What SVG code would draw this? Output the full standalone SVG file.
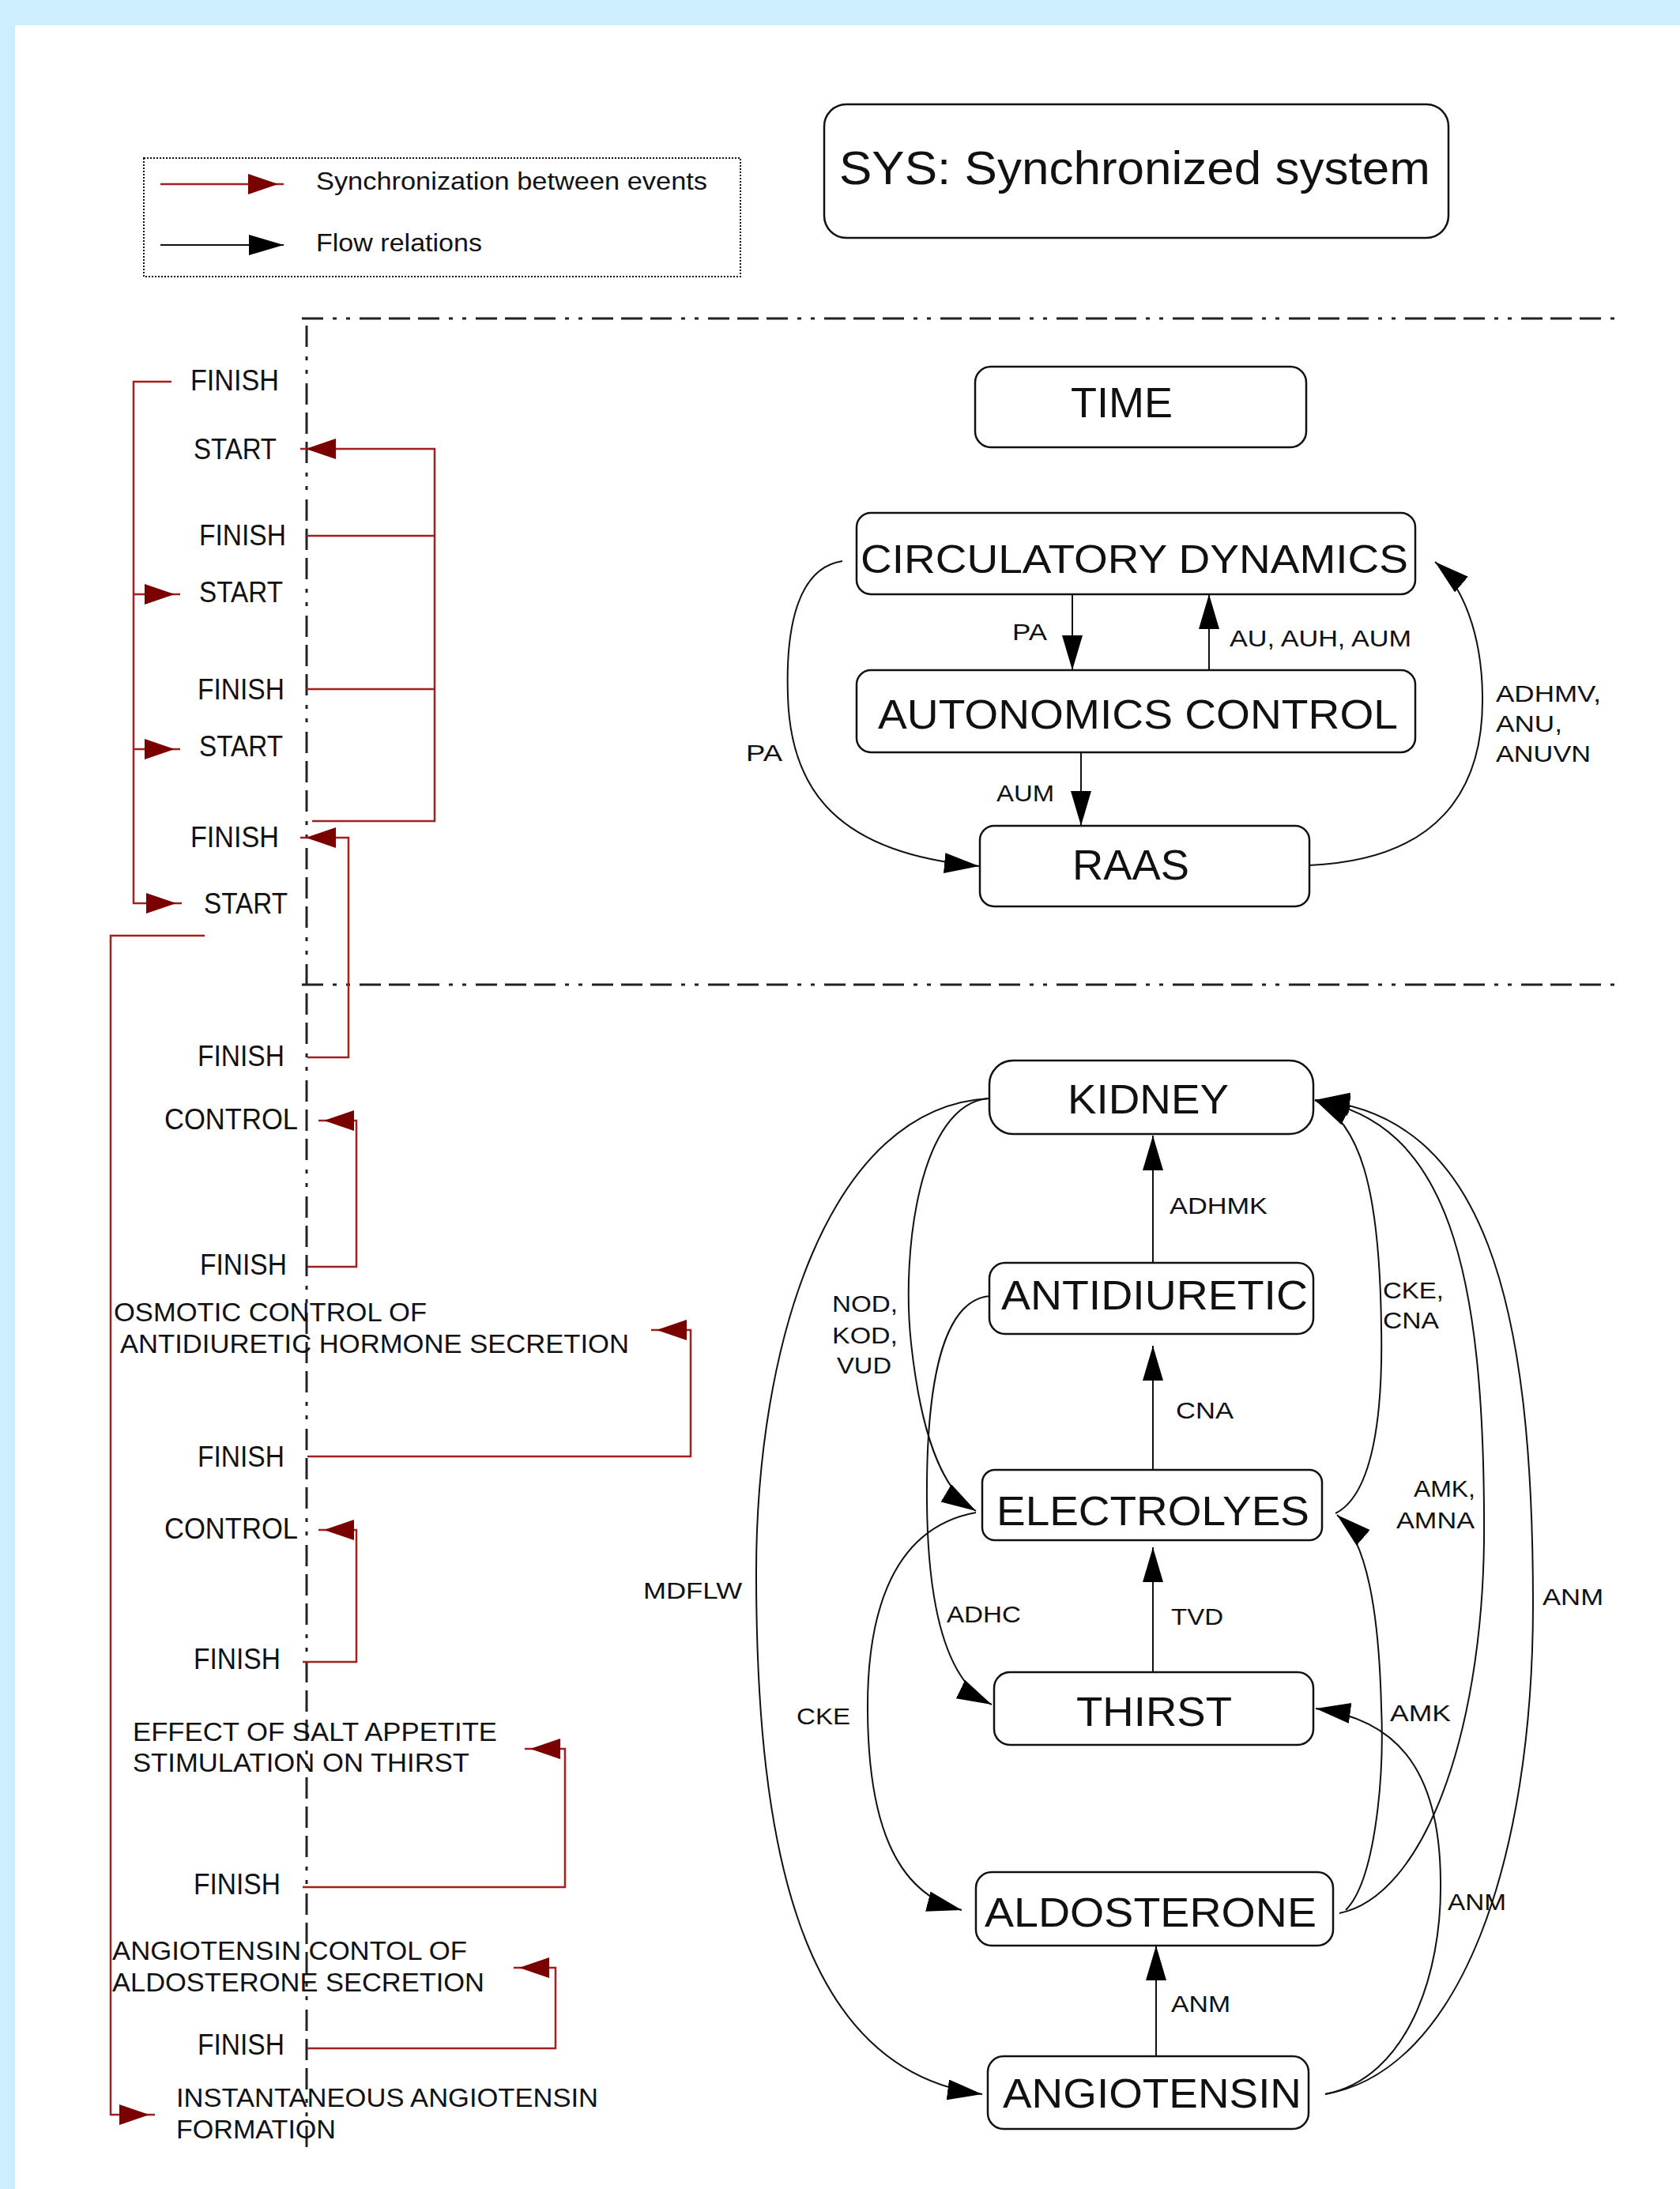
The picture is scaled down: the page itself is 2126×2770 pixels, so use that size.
<svg xmlns="http://www.w3.org/2000/svg" width="2126" height="2770" viewBox="0 0 2126 2770">
<style>
text{font-family:"Liberation Sans",Arial,sans-serif;fill:#111}
.node{fill:#fff;stroke:#111;stroke-width:2.5}
.lbl{font-size:36px}
.dsc{font-size:34px}
.el{font-size:30px}
.nt{font-size:52px}
.flow{fill:none;stroke:#111;stroke-width:2}
.sync{fill:none;stroke:#a31f1f;stroke-width:2.5}
.dd{fill:none;stroke:#222;stroke-width:3;stroke-dasharray:27 10 27 10 27 12 5 12 5 12}
</style>
<defs>
<marker id="ab" markerUnits="userSpaceOnUse" markerWidth="46" markerHeight="28" refX="44" refY="13" orient="auto"><path d="M0,0 L44,13 L0,26 z" fill="#000"/></marker>
<marker id="ar" markerUnits="userSpaceOnUse" markerWidth="48" markerHeight="28" refX="45" refY="13" orient="auto"><path d="M0,0 L38,13 L0,26 z" fill="#7a0000"/></marker>
</defs>
<rect x="0" y="0" width="2126" height="2770" fill="#cceeff"/>
<rect x="19" y="32" width="2107" height="2738" fill="#fff"/>

<g id="legend">
<rect x="182" y="200" width="755" height="150" fill="none" stroke="#111" stroke-width="2" stroke-dasharray="2 2"/>
<path class="sync" d="M203,233 H359" marker-end="url(#ar)"/>
<path class="flow" d="M203,310 H359" marker-end="url(#ab)"/>
<text x="400" y="240" font-size="32" textLength="495" lengthAdjust="spacingAndGlyphs">Synchronization between events</text>
<text x="400" y="318" font-size="32" textLength="210" lengthAdjust="spacingAndGlyphs">Flow relations</text>
</g>

<g id="sys">
<rect class="node" x="1043" y="132" width="790" height="169" rx="28"/>
<text x="1062" y="233" font-size="60" textLength="748" lengthAdjust="spacingAndGlyphs">SYS: Synchronized system</text>
</g>

<g id="separators">
<path class="dd" d="M382,403 H2055" stroke-dashoffset="74"/>
<path class="dd" d="M382,1246 H2055" stroke-dashoffset="74"/>
<path class="dd" d="M388,412 V2717" stroke-dashoffset="74"/>
</g>

<g id="events">
<text class="lbl" x="241" y="494" textLength="112" lengthAdjust="spacingAndGlyphs">FINISH</text>
<text class="lbl" x="245" y="581" textLength="105" lengthAdjust="spacingAndGlyphs">START</text>
<text class="lbl" x="252" y="690" textLength="110" lengthAdjust="spacingAndGlyphs">FINISH</text>
<text class="lbl" x="252" y="762" textLength="106" lengthAdjust="spacingAndGlyphs">START</text>
<text class="lbl" x="250" y="885" textLength="110" lengthAdjust="spacingAndGlyphs">FINISH</text>
<text class="lbl" x="252" y="957" textLength="106" lengthAdjust="spacingAndGlyphs">START</text>
<text class="lbl" x="241" y="1072" textLength="112" lengthAdjust="spacingAndGlyphs">FINISH</text>
<text class="lbl" x="258" y="1156" textLength="106" lengthAdjust="spacingAndGlyphs">START</text>
<text class="lbl" x="250" y="1349" textLength="110" lengthAdjust="spacingAndGlyphs">FINISH</text>
<text class="lbl" x="208" y="1429" textLength="169" lengthAdjust="spacingAndGlyphs">CONTROL</text>
<text class="lbl" x="253" y="1613" textLength="110" lengthAdjust="spacingAndGlyphs">FINISH</text>
<text class="dsc" x="144" y="1672" textLength="396" lengthAdjust="spacingAndGlyphs">OSMOTIC CONTROL OF</text>
<text class="dsc" x="152" y="1712" textLength="644" lengthAdjust="spacingAndGlyphs">ANTIDIURETIC HORMONE SECRETION</text>
<text class="lbl" x="250" y="1856" textLength="110" lengthAdjust="spacingAndGlyphs">FINISH</text>
<text class="lbl" x="208" y="1947" textLength="169" lengthAdjust="spacingAndGlyphs">CONTROL</text>
<text class="lbl" x="245" y="2112" textLength="110" lengthAdjust="spacingAndGlyphs">FINISH</text>
<text class="dsc" x="168" y="2203" textLength="461" lengthAdjust="spacingAndGlyphs">EFFECT OF SALT APPETITE</text>
<text class="dsc" x="168" y="2242" textLength="426" lengthAdjust="spacingAndGlyphs">STIMULATION ON THIRST</text>
<text class="lbl" x="245" y="2397" textLength="110" lengthAdjust="spacingAndGlyphs">FINISH</text>
<text class="dsc" x="142" y="2480" textLength="449" lengthAdjust="spacingAndGlyphs">ANGIOTENSIN CONTOL OF</text>
<text class="dsc" x="142" y="2520" textLength="471" lengthAdjust="spacingAndGlyphs">ALDOSTERONE SECRETION</text>
<text class="lbl" x="250" y="2600" textLength="110" lengthAdjust="spacingAndGlyphs">FINISH</text>
<text class="dsc" x="223" y="2666" textLength="534" lengthAdjust="spacingAndGlyphs">INSTANTANEOUS ANGIOTENSIN</text>
<text class="dsc" x="223" y="2706" textLength="202" lengthAdjust="spacingAndGlyphs">FORMATION</text>
</g>

<g id="time"><rect class="node" x="1234" y="464" width="419" height="102" rx="20"/><text x="1355" y="528" font-size="54" textLength="129" lengthAdjust="spacingAndGlyphs">TIME</text></g>
<g id="circulatory"><rect class="node" x="1084" y="649" width="707" height="103" rx="18"/><text x="1089" y="725" font-size="50" textLength="693" lengthAdjust="spacingAndGlyphs">CIRCULATORY DYNAMICS</text></g>
<g id="autonomics"><rect class="node" x="1084" y="848" width="707" height="104" rx="18"/><text x="1111" y="922" font-size="52" textLength="658" lengthAdjust="spacingAndGlyphs">AUTONOMICS CONTROL</text></g>
<g id="raas"><rect class="node" x="1240" y="1045" width="417" height="102" rx="18"/><text x="1357" y="1113" font-size="54" textLength="148" lengthAdjust="spacingAndGlyphs">RAAS</text></g>

<g id="kidney"><rect class="node" x="1252" y="1342" width="410" height="93" rx="30"/><text class="nt" x="1351" y="1409" textLength="204" lengthAdjust="spacingAndGlyphs">KIDNEY</text></g>
<g id="antidiuretic"><rect class="node" x="1252" y="1598" width="410" height="90" rx="20"/><text class="nt" x="1267" y="1657" textLength="388" lengthAdjust="spacingAndGlyphs">ANTIDIURETIC</text></g>
<g id="electrolyes"><rect class="node" x="1243" y="1860" width="430" height="89" rx="16"/><text class="nt" x="1261" y="1930" textLength="396" lengthAdjust="spacingAndGlyphs">ELECTROLYES</text></g>
<g id="thirst"><rect class="node" x="1258" y="2116" width="404" height="92" rx="20"/><text class="nt" x="1362" y="2184" textLength="197" lengthAdjust="spacingAndGlyphs">THIRST</text></g>
<g id="aldosterone"><rect class="node" x="1235" y="2369" width="452" height="93" rx="20"/><text class="nt" x="1246" y="2438" textLength="420" lengthAdjust="spacingAndGlyphs">ALDOSTERONE</text></g>
<g id="angiotensin"><rect class="node" x="1250" y="2602" width="406" height="92" rx="20"/><text class="nt" x="1269" y="2667" textLength="378" lengthAdjust="spacingAndGlyphs">ANGIOTENSIN</text></g>

<g id="connectors">
<!-- synchronization -->
<path class="sync" d="M217,483 H169 V1143 H230" marker-end="url(#ar)"/>
<path class="sync" d="M169,752 H228" marker-end="url(#ar)"/>
<path class="sync" d="M169,948 H228" marker-end="url(#ar)"/>
<path class="sync" d="M388,678 H550"/>
<path class="sync" d="M388,872 H550"/>
<path class="sync" d="M395,1039 H550 V568 H380" marker-end="url(#ar)"/>
<path class="sync" d="M389,1338 H441 V1060 H380" marker-end="url(#ar)"/>
<path class="sync" d="M389,1603 H451 V1418 H403" marker-end="url(#ar)"/>
<path class="sync" d="M389,1843 H874 V1683 H824" marker-end="url(#ar)"/>
<path class="sync" d="M383,2103 H451 V1936 H403" marker-end="url(#ar)"/>
<path class="sync" d="M383,2388 H715 V2213 H664" marker-end="url(#ar)"/>
<path class="sync" d="M389,2592 H703 V2490 H650" marker-end="url(#ar)"/>
<path class="sync" d="M259,1184 H140 V2676 H196" marker-end="url(#ar)"/>
<!-- flow top -->
<path class="flow" d="M1357,752 V848" marker-end="url(#ab)"/>
<path class="flow" d="M1530,848 V752" marker-end="url(#ab)"/>
<path class="flow" d="M1368,952 V1045" marker-end="url(#ab)"/>
<path class="flow" d="M1066,710 C1000,720 995,820 997,880 C1000,1000 1060,1080 1239,1096" marker-end="url(#ab)"/>
<path class="flow" d="M1657,1095 C1820,1088 1878,1000 1876,880 C1875,800 1850,740 1816,711" marker-end="url(#ab)"/>
<!-- flow bottom -->
<path class="flow" d="M1459,1598 V1437" marker-end="url(#ab)"/>
<path class="flow" d="M1459,1860 V1703" marker-end="url(#ab)"/>
<path class="flow" d="M1459,2116 V1958" marker-end="url(#ab)"/>
<path class="flow" d="M1463,2602 V2462" marker-end="url(#ab)"/>
<path class="flow" d="M1252,1390 C1050,1400 955,1700 957,2000 C958,2330 1010,2620 1243,2650" marker-end="url(#ab)"/>
<path class="flow" d="M1250,1390 C1165,1398 1140,1580 1153,1700 C1165,1810 1190,1885 1235,1912" marker-end="url(#ab)"/>
<path class="flow" d="M1253,1640 C1185,1645 1172,1780 1173,1900 C1174,2040 1200,2130 1255,2157" marker-end="url(#ab)"/>
<path class="flow" d="M1235,1914 C1120,1935 1097,2060 1098,2166 C1099,2300 1130,2395 1217,2417" marker-end="url(#ab)"/>
<path class="flow" d="M1690,1915 C1740,1890 1750,1780 1748,1680 C1746,1500 1720,1420 1664,1392" marker-end="url(#ab)"/>
<path class="flow" d="M1695,2421 C1800,2400 1875,2200 1878,1950 C1880,1600 1830,1420 1664,1392" marker-end="url(#ab)"/>
<path class="flow" d="M1677,2650 C1850,2620 1940,2350 1940,2030 C1940,1650 1880,1410 1664,1392" marker-end="url(#ab)"/>
<path class="flow" d="M1703,2417 C1740,2380 1752,2250 1748,2160 C1745,2040 1730,1950 1692,1917" marker-end="url(#ab)"/>
<path class="flow" d="M1677,2650 C1780,2630 1825,2500 1823,2380 C1822,2230 1760,2175 1665,2162" marker-end="url(#ab)"/>
</g>

<g id="edge-labels" class="el">
<text class="el" x="1281" y="810" textLength="44" lengthAdjust="spacingAndGlyphs">PA</text>
<text class="el" x="1556" y="818" textLength="230" lengthAdjust="spacingAndGlyphs">AU, AUH, AUM</text>
<text class="el" x="1261" y="1014" textLength="73" lengthAdjust="spacingAndGlyphs">AUM</text>
<text class="el" x="944" y="963" textLength="46" lengthAdjust="spacingAndGlyphs">PA</text>
<text class="el" x="1893" y="888" textLength="133" lengthAdjust="spacingAndGlyphs">ADHMV,</text>
<text class="el" x="1893" y="926" textLength="84" lengthAdjust="spacingAndGlyphs">ANU,</text>
<text class="el" x="1893" y="964" textLength="120" lengthAdjust="spacingAndGlyphs">ANUVN</text>
<text class="el" x="1480" y="1536" textLength="124" lengthAdjust="spacingAndGlyphs">ADHMK</text>
<text class="el" x="1488" y="1795" textLength="73" lengthAdjust="spacingAndGlyphs">CNA</text>
<text class="el" x="1482" y="2056" textLength="66" lengthAdjust="spacingAndGlyphs">TVD</text>
<text class="el" x="1482" y="2546" textLength="75" lengthAdjust="spacingAndGlyphs">ANM</text>
<text class="el" x="1053" y="1660" textLength="83" lengthAdjust="spacingAndGlyphs">NOD,</text>
<text class="el" x="1053" y="1700" textLength="83" lengthAdjust="spacingAndGlyphs">KOD,</text>
<text class="el" x="1059" y="1738" textLength="69" lengthAdjust="spacingAndGlyphs">VUD</text>
<text class="el" x="1750" y="1643" textLength="77" lengthAdjust="spacingAndGlyphs">CKE,</text>
<text class="el" x="1750" y="1681" textLength="71" lengthAdjust="spacingAndGlyphs">CNA</text>
<text class="el" x="1789" y="1894" textLength="78" lengthAdjust="spacingAndGlyphs">AMK,</text>
<text class="el" x="1767" y="1934" textLength="99" lengthAdjust="spacingAndGlyphs">AMNA</text>
<text class="el" x="814" y="2023" textLength="125" lengthAdjust="spacingAndGlyphs">MDFLW</text>
<text class="el" x="1198" y="2053" textLength="94" lengthAdjust="spacingAndGlyphs">ADHC</text>
<text class="el" x="1952" y="2031" textLength="77" lengthAdjust="spacingAndGlyphs">ANM</text>
<text class="el" x="1008" y="2182" textLength="68" lengthAdjust="spacingAndGlyphs">CKE</text>
<text class="el" x="1759" y="2178" textLength="77" lengthAdjust="spacingAndGlyphs">AMK</text>
<text class="el" x="1832" y="2417" textLength="74" lengthAdjust="spacingAndGlyphs">ANM</text>
</g>
</svg>
